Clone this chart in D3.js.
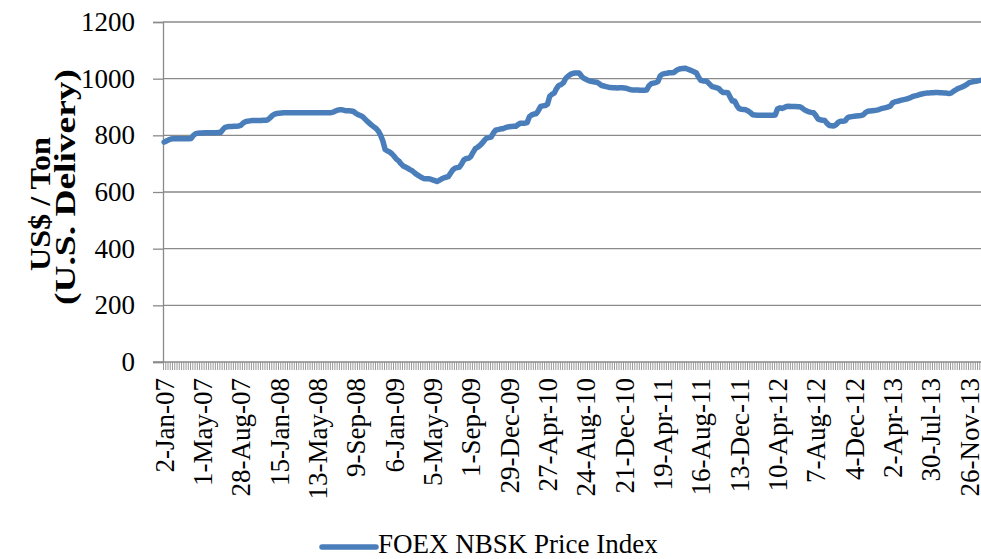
<!DOCTYPE html>
<html>
<head>
<meta charset="utf-8">
<script src="https://cdn.jsdelivr.net/npm/d3@7"></script>
<style>
  body { margin: 0; background: #fff; }
  svg { display: block; }
</style>
</head>
<body>
<div id="chart"></div>
<script>
"use strict";

// Size of SVG
const w = 981;
const h = 559;

// Weekly FOEX NBSK price index, US$ / ton (one value per week)
const prices = [
  776, 780, 784, 787, 788, 788, 788, 788, 788, 788,
  788, 788, 789, 800, 806, 807, 808, 808, 809, 809,
  809, 809, 809, 809, 810, 810, 820, 828, 830, 831,
  831, 832, 832, 833, 835, 843, 848, 850, 851, 852,
  852, 852, 852, 852, 853, 853, 855, 862, 870, 875,
  877, 878, 879, 880, 880, 880, 880, 880, 880, 880,
  880, 880, 880, 880, 880, 880, 880, 880, 880, 880,
  880, 880, 880, 880, 880, 882, 886, 889, 890, 890,
  888, 887, 887, 886, 884, 878, 873, 870, 866, 858,
  850, 843, 836, 830, 824, 815, 800, 780, 750, 745,
  741, 735, 726, 716, 710, 700, 692, 688, 684, 679,
  675, 668, 662, 657, 652, 648, 647, 647, 646, 643,
  640, 637, 641, 646, 650, 652, 654, 666, 678, 684,
  686, 688, 700, 714, 718, 719, 725, 740, 753, 758,
  764, 772, 782, 790, 792, 794, 808, 818, 820, 822,
  823, 826, 829, 830, 831, 832, 832, 838, 843, 843,
  843, 845, 866, 872, 875, 876, 888, 902, 904, 905,
  910, 938, 945, 949, 965, 976, 979, 985, 1000, 1008,
  1014, 1018, 1020, 1020, 1020, 1010, 1002, 998, 994, 991,
  990, 988, 987, 982, 976, 974, 972, 970, 969, 968,
  968, 967, 968, 968, 967, 966, 963, 961, 960, 960,
  960, 959, 959, 959, 960, 975, 982, 984, 986, 990,
  1010, 1016, 1018, 1019, 1021, 1021, 1022, 1028, 1033, 1035,
  1036, 1037, 1034, 1031, 1028, 1024, 1021, 1005, 994, 992,
  992, 988, 980, 972, 970, 968, 965, 956, 951, 951,
  950, 935, 921, 921, 905, 894, 892, 891, 890, 886,
  880, 873, 872, 871, 871, 871, 871, 871, 871, 871,
  871, 872, 893, 897, 895, 898, 902, 903, 902, 902,
  902, 901, 901, 896, 890, 886, 883, 881, 880, 870,
  857, 855, 853, 852, 842, 835, 834, 833, 838, 846,
  850, 850, 851, 862, 865, 866, 867, 868, 869, 870,
  872, 880, 885, 886, 887, 888, 889, 891, 894, 896,
  898, 900, 903, 914, 918, 920, 922, 924, 926, 928,
  930, 933, 937, 939, 941, 944, 946, 948, 949, 949,
  950, 950, 951, 951, 950, 950, 949, 949, 948, 949,
  955, 960, 965, 968, 971, 975, 980, 986, 988, 990,
  991, 993, 994
];

// Category labels shown on the axis (every 17th week)
const tickLabels = [
  "2-Jan-07", "1-May-07", "28-Aug-07", "15-Jan-08", "13-May-08", "9-Sep-08",
  "6-Jan-09", "5-May-09", "1-Sep-09", "29-Dec-09", "27-Apr-10", "24-Aug-10",
  "21-Dec-10", "19-Apr-11", "16-Aug-11", "13-Dec-11", "10-Apr-12", "7-Aug-12",
  "4-Dec-12", "2-Apr-13", "30-Jul-13", "26-Nov-13"
];
const labelStep = 17;
const yTicks = [0, 200, 400, 600, 800, 1000, 1200];
const seriesName = "FOEX NBSK Price Index";

const plotLeft = 163, plotTop = 22, plotBottom = 362;
const step = 2.255;
const n = prices.length;
const gridColor = "#8a8a8a";
const lineColor = "#4a7ebb";
const font = "'Liberation Serif', 'Times New Roman', serif";

const svg = d3.select("#chart")
  .append("svg")
  .attr("width", w)
  .attr("height", h)
  .style("font-family", font);

// Scales
const x = d3.scaleBand()
  .domain(d3.range(n))
  .range([plotLeft, plotLeft + n * step])
  .paddingInner(0)
  .paddingOuter(0);

const xEdge = d3.scaleLinear()
  .domain([0, n])
  .range([plotLeft, plotLeft + n * step]);

const y = d3.scaleLinear()
  .domain([0, 1200])
  .range([plotBottom, plotTop]);

// Gridlines + y axis
const yAxis = svg.append("g")
  .attr("transform", `translate(${plotLeft},0)`)
  .call(d3.axisLeft(y)
    .tickValues(yTicks)
    .tickSize(10)
    .tickPadding(18)
    .tickFormat(d3.format("d")));
yAxis.select(".domain").attr("stroke", gridColor).attr("stroke-width", 1.3);
yAxis.selectAll(".tick line").attr("stroke", gridColor).attr("stroke-width", 1.3);
yAxis.selectAll(".tick text")
  .attr("fill", "#000")
  .style("font-size", "27px")
  .style("font-family", font);

svg.append("g")
  .selectAll("line")
  .data(yTicks.filter(d => d > 0))
  .enter()
  .append("line")
  .attr("x1", plotLeft)
  .attr("x2", xEdge(n))
  .attr("y1", d => y(d))
  .attr("y2", d => y(d))
  .attr("stroke", gridColor)
  .attr("stroke-width", 1.3);

// X axis: one tick per week
const xAxis = svg.append("g")
  .attr("transform", `translate(0,${plotBottom})`)
  .call(d3.axisBottom(xEdge)
    .tickValues(d3.range(n + 1))
    .tickSize(8)
    .tickFormat(""));
xAxis.select(".domain").remove();
xAxis.selectAll(".tick line").attr("stroke", "#999").attr("stroke-width", 1);

svg.append("line")
  .attr("x1", plotLeft - 10)
  .attr("x2", xEdge(n))
  .attr("y1", plotBottom)
  .attr("y2", plotBottom)
  .attr("stroke", gridColor)
  .attr("stroke-width", 1.3);

// Date labels (rotated)
svg.append("g")
  .selectAll("text")
  .data(tickLabels)
  .enter()
  .append("text")
  .attr("transform", (d, i) => {
    const cx = x(i * labelStep) + x.bandwidth() / 2;
    return `translate(${cx},378) rotate(-90)`;
  })
  .attr("text-anchor", "end")
  .attr("dy", "0.35em")
  .style("font-size", "27px")
  .text(d => d);

// Axis title, two lines
svg.append("text")
  .attr("transform", "translate(50,204) rotate(-90)")
  .attr("text-anchor", "middle")
  .attr("textLength", 134)
  .attr("lengthAdjust", "spacingAndGlyphs")
  .style("font-size", "29px")
  .style("font-weight", "bold")
  .text("US$ / Ton");
svg.append("text")
  .attr("transform", "translate(75,187) rotate(-90)")
  .attr("text-anchor", "middle")
  .attr("textLength", 236)
  .attr("lengthAdjust", "spacingAndGlyphs")
  .style("font-size", "29px")
  .style("font-weight", "bold")
  .text("(U.S. Delivery)");

// Price line
const line = d3.line()
  .x((d, i) => x(i) + x.bandwidth() / 2)
  .y(d => y(d));

svg.append("path")
  .datum(prices)
  .attr("fill", "none")
  .attr("stroke", lineColor)
  .attr("stroke-width", 5.5)
  .attr("stroke-linejoin", "round")
  .attr("stroke-linecap", "round")
  .attr("d", line);

// Legend
const legend = svg.append("g").attr("transform", "translate(322,547)");
legend.append("line")
  .attr("x1", 0)
  .attr("x2", 54)
  .attr("stroke", lineColor)
  .attr("stroke-width", 5.5)
  .attr("stroke-linecap", "round");
legend.append("text")
  .attr("x", 56)
  .attr("y", 6)
  .style("font-size", "27px")
  .text(seriesName);
</script>
</body>
</html>
